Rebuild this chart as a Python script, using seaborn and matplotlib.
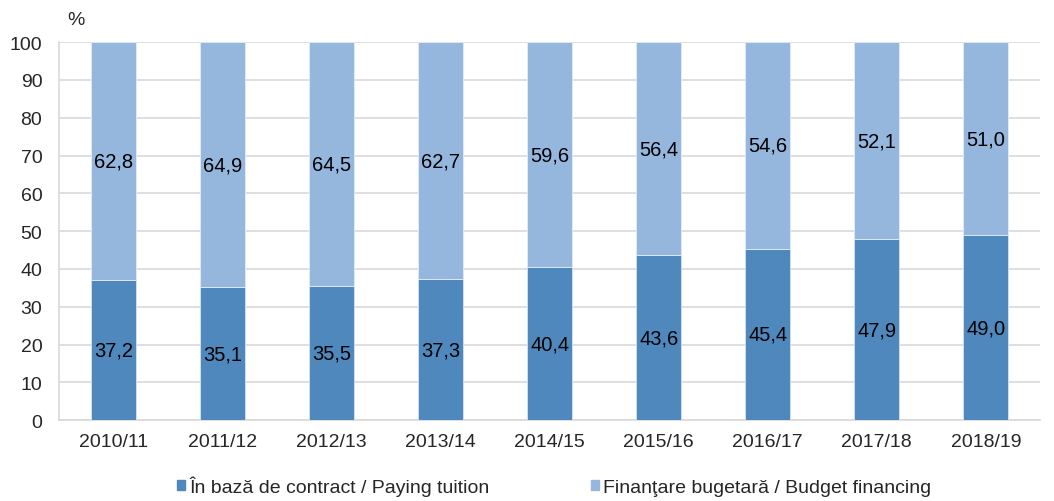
import numpy as np
import pandas as pd
import matplotlib
matplotlib.use('Agg')
import matplotlib.pyplot as plt
import seaborn as sns
from matplotlib.patches import Patch

# Students by financing type, %
years = ['2010/11', '2011/12', '2012/13', '2013/14', '2014/15', '2015/16', '2016/17', '2017/18', '2018/19']
contract = [37.2, 35.1, 35.5, 37.3, 40.4, 43.6, 45.4, 47.9, 49.0]
budget = [62.8, 64.9, 64.5, 62.7, 59.6, 56.4, 54.6, 52.1, 51.0]
series_names = ['În bază de contract / Paying tuition', 'Finanţare bugetară / Budget financing']

df = pd.DataFrame({'an': years, 'contract': contract, 'buget': budget})

sns.set_style('white')
plt.rcParams['font.family'] = ['Liberation Sans', 'DejaVu Sans']

c_dark = '#4F88BD'
c_light = '#95B6DD'
grid_c = '#D9D9D9'

fig = plt.figure(figsize=(10.54, 5.02), dpi=100)
ax = fig.add_axes([0.056, 0.161, 0.931, 0.753])

sns.barplot(data=df, x='an', y='contract', color=c_dark, width=0.41, saturation=1, ax=ax,
            edgecolor='#D6E2F0', linewidth=0.6, zorder=3)
sns.barplot(data=df, x='an', y='buget', color=c_light, width=0.41, saturation=1, ax=ax,
            bottom=df['contract'], edgecolor='#E3ECF6', linewidth=0.6, zorder=3)

for i, (a, b) in enumerate(zip(contract, budget)):
    ax.text(i, a / 2, f'{a:.1f}'.replace('.', ','), ha='center', va='center', fontsize=14.5, color='black', zorder=4)
    ax.text(i, a + b / 2, f'{b:.1f}'.replace('.', ','), ha='center', va='center', fontsize=14.5, color='black', zorder=4)

ax.set_ylim(0, 100)
ax.set_xlim(-0.5, len(years) - 0.5)
ax.set_yticks(np.arange(0, 101, 10))
ax.yaxis.grid(True, color=grid_c, linewidth=1.2, zorder=0)
ax.set_axisbelow(True)
ax.set_xlabel('')
ax.set_ylabel('')

for s in ['top', 'right']:
    ax.spines[s].set_visible(False)
ax.spines['left'].set_color(grid_c)
ax.spines['bottom'].set_color(grid_c)
ax.spines['left'].set_linewidth(1.2)
ax.spines['bottom'].set_linewidth(1.2)

ax.set_xticks(np.arange(len(years)))
ax.set_xticklabels(years)
ax.set_xticks(np.arange(-0.5, len(years), 1), minor=True)
ax.tick_params(axis='x', which='major', length=0, pad=9, labelsize=14)
ax.tick_params(axis='x', which='minor', length=6, color=grid_c, width=1.2, direction='out')
ax.tick_params(axis='y', length=0, pad=12, labelsize=14)

ax.text(0.017, 1.061, '%', transform=ax.transAxes, fontsize=14, ha='center', va='center')

handles = [Patch(color=c_dark), Patch(color=c_light)]
fig.legend(handles, series_names, loc='lower left', bbox_to_anchor=(0.151, -0.025), ncol=2,
           frameon=False, fontsize=14, handlelength=0.45, handleheight=0.45, handletextpad=0.2,
           columnspacing=5.2)

fig.savefig('out.png', dpi=100)
